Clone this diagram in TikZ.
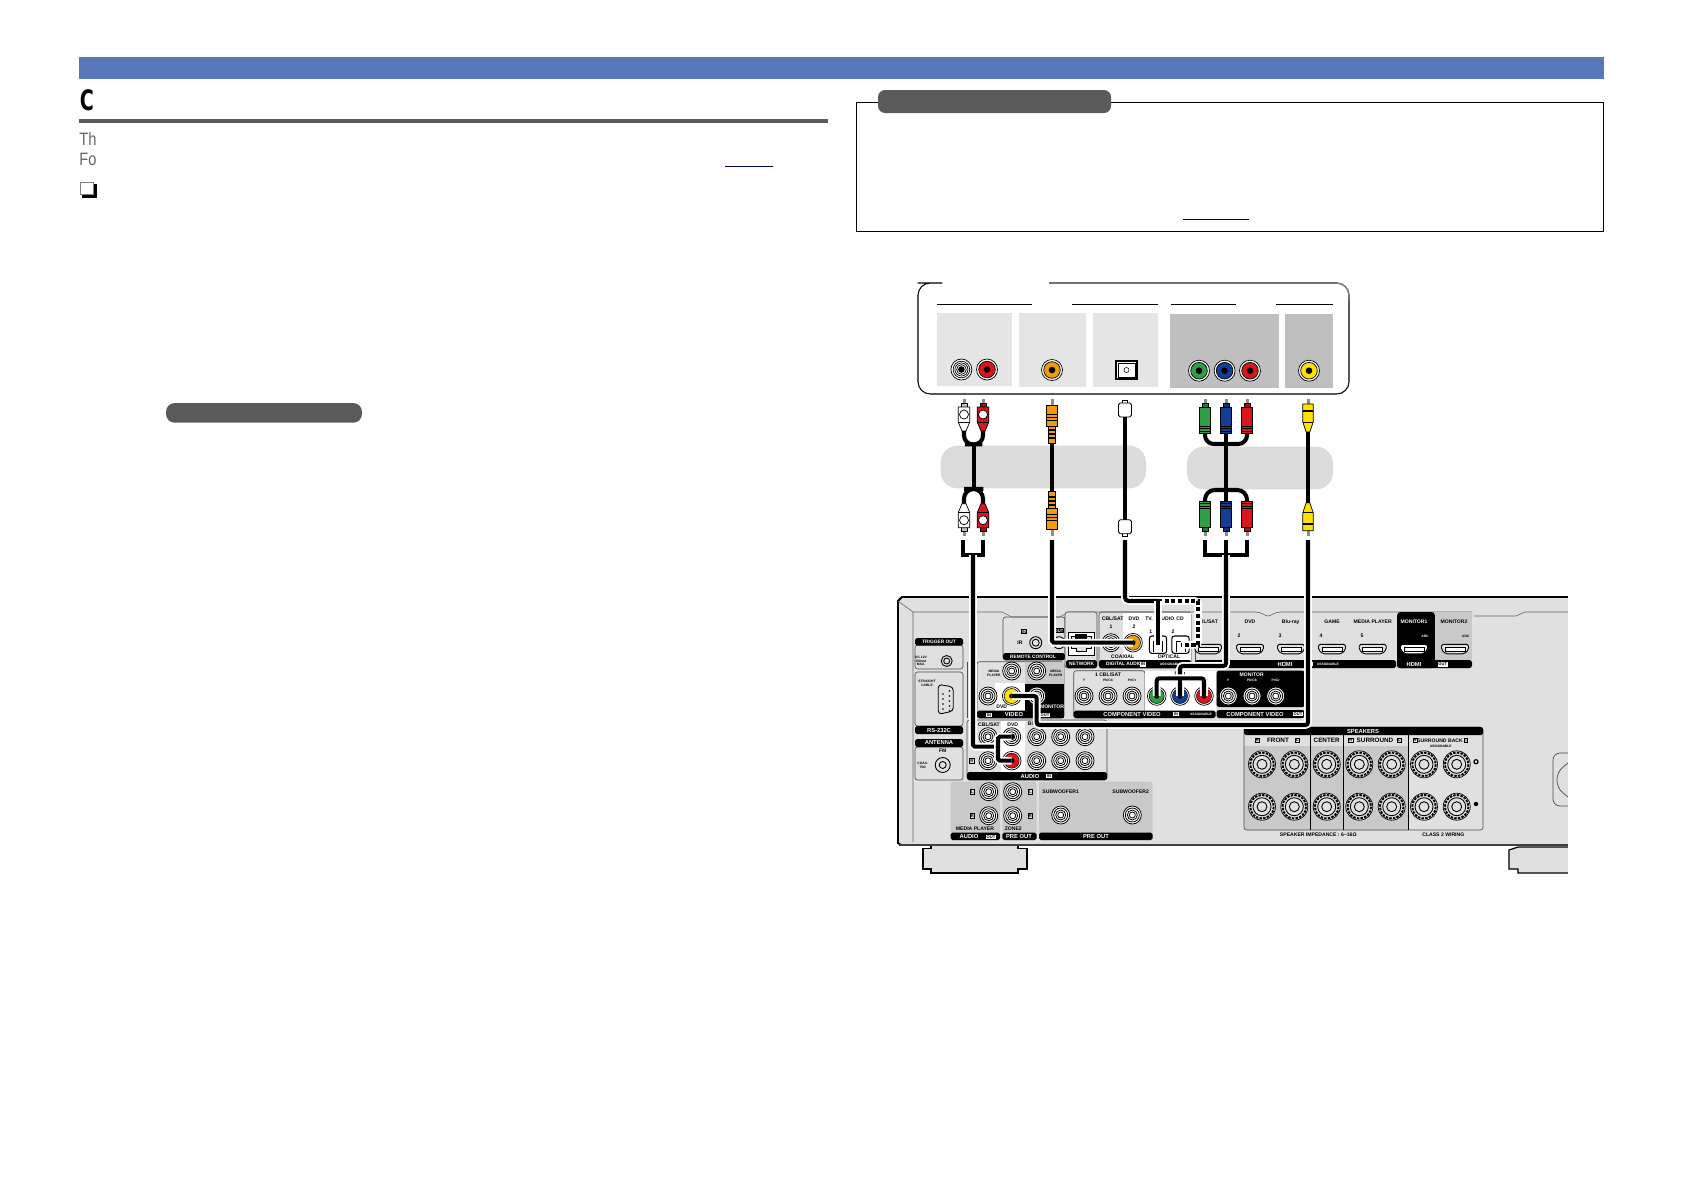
\documentclass[tikz,border=0pt]{standalone}
\usepackage{fontspec}
\usepackage{graphicx}
\setmainfont{Liberation Sans}
\newfontfamily\titlefont{DejaVu Sans}
\usetikzlibrary{calc}
\usetikzlibrary{positioning}

\definecolor{bandblue}{HTML}{5878B9}
\definecolor{pillgray}{HTML}{5A5A5A}
\definecolor{chassis}{HTML}{E0E0E0}
\definecolor{hatchgray}{HTML}{C9C9C9}
\definecolor{plugred}{HTML}{D9161C}
\definecolor{pluggreen}{HTML}{2F9E44}
\definecolor{plugblue}{HTML}{143E96}
\definecolor{plugorange}{HTML}{F09A0E}
\definecolor{plugyellow}{HTML}{FFE100}

\tikzset{
  lab/.style={font=\fontsize{2.9}{3.1}\selectfont\bfseries, inner sep=0pt, align=center},
  labb/.style={font=\fontsize{3.6}{3.8}\selectfont\bfseries, inner sep=0pt},
  labw/.style={lab, text=white},
  labt/.style={font=\fontsize{1.9}{2.1}\selectfont\bfseries, inner sep=0pt, align=center},
  labtw/.style={labt, text=white},
  head/.style={font=\fontsize{3.3}{4}\selectfont\bfseries, text=white, inner sep=0pt},
  heads/.style={font=\fontsize{2.75}{3}\selectfont\bfseries, text=white, inner sep=0pt},
  tagbox/.style={font=\fontsize{2.3}{2.4}\selectfont\bfseries, fill=white, text=black, inner sep=.4pt},
  tagdark/.style={font=\fontsize{2.3}{2.4}\selectfont\bfseries, fill=black, text=white, inner sep=.5pt},
  panel/.style={draw=black!70, line width=.35pt, rounded corners=1.5pt},
  blackbar/.style={fill=black, rounded corners=1pt},
  cable/.style={black, line width=2.3pt},
  cablew/.style={cable, preaction={draw=white, line width=4.4pt}},
  cabledash/.style={black, line width=2.3pt, dash pattern=on 2.3pt off 1.5pt}
}

% plug with its tip at (x,y), direction 1 = cable below, -1 = cable above
\newcommand{\compplug}[5]{
  \begin{scope}[shift={(#2,#3)},yscale=#4,line width=.4pt]
    \fill[black!45] (-1.5,0) rectangle (1.5,7);
    \filldraw[fill=#5!75!black] (-3,4) rectangle (3,9);
    \filldraw[fill=#5] (-5.8,8) rectangle (5.8,34);
    \foreach \y in {27,29.5,32} {\draw (-5.8,\y) -- (5.8,\y);}
    \coordinate (#1) at (0,34);
  \end{scope}}
\newcommand{\audioplug}[5]{
  \begin{scope}[shift={(#2,#3)},yscale=#4,line width=.4pt]
    \fill[black!45] (-1.5,0) rectangle (1.5,7);
    \filldraw[fill=#5!75!black] (-3,4) rectangle (3,9);
    \filldraw[fill=#5] (-5.8,8) -- (5.8,8) -- (5.8,23) -- (2,32) -- (-2,32) -- (-5.8,23) -- cycle;
    \draw (-5.8,23) -- (5.8,23);
    \filldraw[fill=white] (0,15.5) circle (4.5);
    \coordinate (#1) at (0,32);
  \end{scope}}
\newcommand{\orangeplug}[4]{
  \begin{scope}[shift={(#2,#3)},yscale=#4,line width=.4pt]
    \fill[black!45] (-1.5,0) rectangle (1.5,7);
    \filldraw[fill=plugorange] (-5.8,6) rectangle (5.8,27);
    \foreach \y in {15,18,21} {\draw (-5.8,\y) -- (5.8,\y);}
    \filldraw[fill=plugorange] (-3.6,27) rectangle (3.6,44);
    \foreach \y in {30,34,38} {\fill (-3.6,\y) rectangle (3.6,\y+1.8);}
    \coordinate (#1) at (0,44);
  \end{scope}}
\newcommand{\yellowplug}[4]{
  \begin{scope}[shift={(#2,#3)},yscale=#4,line width=.4pt]
    \fill[black!45] (-1.5,0) rectangle (1.5,6);
    \filldraw[fill=plugyellow] (-5.2,5) -- (5.2,5) -- (5.2,23) -- (1.8,33) -- (-1.8,33) -- (-5.2,23) -- cycle;
    \fill (-5.2,11) rectangle (5.2,12.5);
    \draw (-5.2,23) -- (5.2,23);
    \coordinate (#1) at (0,33);
  \end{scope}}
\newcommand{\optplug}[4]{
  \begin{scope}[shift={(#2,#3)},yscale=#4,line width=.5pt]
    \filldraw[fill=white] (-2.8,0) rectangle (2.8,5);
    \filldraw[fill=white,rounded corners=1pt] (-6.5,3) rectangle (6.5,17);
    \coordinate (#1) at (0,17);
  \end{scope}}
% jacks
\newcommand{\panjack}[3]{
  \coordinate (#1) at (#2);
  \filldraw[fill=white,line width=.4pt] (#2) circle (10.5);
  \filldraw[fill=#3,line width=.4pt] (#2) circle (8.3);
  \fill (#2) circle (3.3);}
\newcommand{\ringjack}[2]{
  \coordinate (#1) at (#2);
  \fill[white] (#2) circle (9);
  \foreach \r in {9,7,5,3} {\draw[line width=.45pt] (#2) circle (\r);}}
\newcommand{\colorjack}[3]{
  \coordinate (#1) at (#2);
  \filldraw[fill=white,line width=.4pt] (#2) circle (9.3);
  \filldraw[fill=#3,line width=.3pt] (#2) circle (7.5);
  \fill (#2) circle (2.6);}
\newcommand{\spkjack}[1]{
  \filldraw[fill=chassis,line width=.4pt] (#1) circle (13.5);
  \draw[line width=1.1pt,dash pattern=on 1.4pt off .7pt] (#1) circle (11.8);
  \draw[line width=.5pt] (#1) circle (9);
  \draw[line width=.5pt] (#1) circle (5);}
\newcommand{\hdmiport}[2]{
  \begin{scope}[shift={(#1)}]
    \filldraw[fill=#2,line width=.5pt,rounded corners=1pt] (-13.5,-5) -- (13.5,-5) -- (13.5,.5) -- (9.5,4.5) -- (-9.5,4.5) -- (-13.5,.5) -- cycle;
    \filldraw[fill=white,line width=.4pt] (-10,-1.5) rectangle (10,2);
  \end{scope}}
\newcommand{\optport}[2]{
  \coordinate (#1) at (#2);
  \filldraw[fill=white,line width=.6pt,rounded corners=1.5pt] ($(#2)+(-8.7,-8.7)$) rectangle ($(#2)+(8.7,8.7)$);
  \draw[line width=.5pt] ($(#2)+(-4.5,7)$) -- ($(#2)+(-4.5,-3)$) -- ($(#2)+(4.5,-3)$) -- ($(#2)+(4.5,7)$);}

\begin{document}
\begin{tikzpicture}[x=0.02cm,y=-0.02cm]
\useasboundingbox (0,0) rectangle (1684,1191);

% page header
\fill[bandblue] (78.5,57) rectangle (1603.5,79);
\node[anchor=west,inner sep=0pt,font=\fontsize{16}{17}\titlefont\bfseries] (title) at (79.5,100.5) {\scalebox{.68}[1]{C}};
\fill[pillgray] (78.5,119) rectangle (828,122.7);
\node[anchor=west,inner sep=0pt,text=black!60,font=\fontsize{10.2}{11}\selectfont] (introA) at (79,139.5) {\scalebox{.82}[1]{Th}};
\node[anchor=west,inner sep=0pt,text=black!60,font=\fontsize{10.2}{11}\selectfont] (introB) at (79,159.2) {\scalebox{.82}[1]{Fo}};
\draw[blue!40!black,line width=.6pt] (725,166.7) -- (773,166.7);
\fill[black] (82,184) rectangle (97,198);
\filldraw[fill=white,draw=black!50,line width=.4pt] (80.3,182) rectangle (93.5,194.5);
\fill[pillgray,rounded corners=5pt] (166,403) rectangle (362,422.7);

% note box
\draw[line width=.7pt] (856.5,102.3) rectangle (1603.5,231.5);
\fill[pillgray,rounded corners=4pt] (878,90) rectangle (1111,113);
\draw[blue!40!black,line width=.6pt] (1183,219.3) -- (1249,219.3);

% source device
\draw[black,line width=.6pt,rounded corners=7pt] (941,283) -- (930,283) -- (918,283) -- (918,394) -- (1349,394) -- (1349,283) -- (1049,283);
\draw[black!50,line width=.8pt,rounded corners=7pt] (1049,283) -- (1349,283) -- (1349,300);
\foreach \a/\b in {937/1032,1072/1158,1171/1236,1276/1333} {\draw[line width=.6pt] (\a,304.3) -- (\b,304.3);}
\fill[black!10] (937,313) rectangle (1012,386);
\fill[black!10] (1019,313) rectangle (1086,387);
\fill[black!10] (1093,313) rectangle (1158,387);
\fill[black!25] (1170,314) rectangle (1279,388);
\fill[black!25] (1285,314) rectangle (1333,388);
\panjack{srcWhite}{961.4,369.5}{white}
\foreach \r in {6.5,4.8} {\draw[line width=.4pt] (srcWhite) circle (\r);}
\panjack{srcRed}{987,369.5}{plugred}
\panjack{srcOrange}{1052,370}{plugorange}
\filldraw[fill=white,line width=.7pt] (1116,361) rectangle (1137,379);
\draw[line width=.3pt] (1118,363) rectangle (1135,377);
\draw[line width=.3pt] (1126.5,370) circle (2.5);
\panjack{srcGreen}{1199,370.7}{pluggreen}
\panjack{srcBlue}{1224.6,370.7}{plugblue}
\panjack{srcPr}{1250,370.7}{plugred}
\panjack{srcYellow}{1309,370.7}{plugyellow}

% cable labels
\fill[black!14,rounded corners=9.5pt] (940.7,445.7) rectangle (1146,488.3);
\fill[black!14,rounded corners=9.5pt] (1187,446.7) rectangle (1333,489.3);

% plugs
\audioplug{audWT}{964}{399}{1}{white}
\audioplug{audRT}{983}{399}{1}{plugred}
\audioplug{audWB}{964}{535.7}{-1}{white}
\audioplug{audRB}{983}{535.7}{-1}{plugred}
\orangeplug{coaxT}{1052}{399}{1}
\orangeplug{coaxB}{1052}{535.7}{-1}
\optplug{optT}{1125}{400}{1}
\optplug{optB}{1125}{536.7}{-1}
\compplug{grnT}{1205}{399}{1}{pluggreen}
\compplug{bluT}{1226}{399}{1}{plugblue}
\compplug{redT}{1247}{399}{1}{plugred}
\compplug{grnB}{1205}{535.7}{-1}{pluggreen}
\compplug{bluB}{1226}{535.7}{-1}{plugblue}
\compplug{redB}{1247}{535.7}{-1}{plugred}
\yellowplug{vidT}{1308}{399}{1}
\yellowplug{vidB}{1308}{535.7}{-1}

% cables between the plugs
\coordinate (audUp) at (973.7,444.3);
\coordinate (audDn) at (973.7,489);
\coordinate (cmpUp) at (1226,444);
\coordinate (cmpDn) at (1226,490);
\draw[cable,rounded corners=5pt] (audWT) |- (audUp) -| (audRT);
\draw[cable,rounded corners=5.5pt] (audWB) |- (audDn) -| (audRB);
\draw[cable] (audUp) -- (audDn);
\draw[cable] (coaxT) -- (coaxB);
\draw[cable] (optT) -- (optB);
\draw[cable,rounded corners=5pt] (grnT) |- (cmpUp) -| (redT);
\draw[cable,rounded corners=5.5pt] (grnB) |- (cmpDn) -| (redB);
\draw[cable] (bluT) -- (bluB);
\draw[cable] (vidT) -- (vidB);

% receiver
\fill[chassis] (898,597) -- (1568,597) -- (1568,845) -- (898,845) -- cycle;
\draw[line width=1.1pt] (1568,597) -- (902,597) -- (898,601) -- (898,843) -- (901,845);
\draw[black!75,line width=1.5pt] (899,845) -- (1568,845);
\draw[black!60,line width=.35pt] (898,601) -- (913,612) -- (913,842);
\draw[black!60,line width=.35pt] (913,612) -- (1002,612) -- (1012,617) -- (1060,617) -- (1068,612) -- (1255,612) .. controls (1262,612) and (1265,616) .. (1268,616) .. controls (1271,616) and (1274,612) .. (1281,612) -- (1472,612);
\draw[black!60,line width=.35pt] (1474,616) -- (1516,616) -- (1525,612) -- (1568,612);
% feet
\filldraw[fill=chassis,line width=.7pt] (931,846) -- (931,848.5) -- (923,848.5) -- (923,869) -- (931,869) -- (931,873) -- (1018,873) -- (1018,869) -- (1027,869) -- (1027,848.5) -- (1018,848.5) -- (1018,846);
\filldraw[fill=chassis,line width=.7pt] (1568,847) -- (1518,847) -- (1509,850) -- (1509,869) -- (1518,869) -- (1518,873) -- (1568,873);
\fill[white] (1568.3,590) rectangle (1684,880);
\draw[black!70,line width=.4pt,rounded corners=4pt] (1568,753) -- (1553,753) -- (1553,806) -- (1568,806);
\draw[black!70,line width=.4pt,rounded corners=4pt] (1568,763) -- (1557,772) -- (1557,788) -- (1568,797);

% left column
\draw[panel] (915,645) rectangle (963,669);
\draw[panel] (915,672) rectangle (963,726);
\draw[panel] (915,747) rectangle (963,780);
\fill[blackbar] (915,638) rectangle (963,645.5);
\fill[blackbar] (915,726) rectangle (963,734);
\fill[blackbar] (915,739) rectangle (963,747);
\filldraw[fill=chassis,line width=.5pt,rounded corners=2pt] (938.3,684.3) -- (953.3,687) -- (953.3,711) -- (938.3,714.3) -- cycle;
\foreach \y in {691,696,701,706,711} {\fill (949.5,\y) circle (.9);}
\foreach \y in {694,699,704,709} {\fill (943,\y) circle (.9);}
\draw[line width=.5pt] (946.7,661) circle (5.5);
\draw[line width=.5pt] (946.7,661) circle (3);
\draw[line width=.5pt] (942.7,765) circle (7.5);
\draw[line width=.5pt] (942.7,765) circle (3.5);

% remote, network, digital in
\draw[panel] (1003,617) rectangle (1065,660);
\fill[blackbar] (1003,653) rectangle (1065,660);
\draw[panel,fill=chassis] (1065,612) rectangle (1097,668);
\fill[blackbar] (1066,660) rectangle (1097,668);
\filldraw[fill=white,line width=.5pt] (1068,632) rectangle (1094,655);
\filldraw[fill=chassis,line width=.4pt] (1071,636) -- (1091,636) -- (1091,648) -- (1086,648) -- (1086,651) -- (1076,651) -- (1076,648) -- (1071,648) -- cycle;
\fill (1075,634) rectangle (1087,639);
\draw[panel] (1099,612) rectangle (1191,668);
\fill[white] (1123,612.5) rectangle (1190.5,660);
\fill[blackbar] (1099,660) rectangle (1191,668);
\draw[line width=.5pt] (1035.7,642.7) circle (6);
\draw[line width=.5pt] (1035.7,642.7) circle (3.5);
\ringjack{inCoaxA}{1111,642.7}
\colorjack{inCoaxB}{1133,642.7}{plugorange}
\draw[line width=.5pt] (1059,642.7) circle (6);

% hdmi
\draw[panel] (1195,612) -- (1195,668);
\fill[blackbar] (1195,660) rectangle (1396,668);
\fill[black,rounded corners=2pt] (1397,612) rectangle (1435,668);
\fill[hatchgray] (1435,612) rectangle (1472,660);
\fill[black,rounded corners=1.5pt] (1397,660) rectangle (1472,668);
\hdmiport{1208,649.3}{chassis}
\foreach \x in {1250,1291,1332,1372.7} {\hdmiport{\x,649.3}{chassis}}
\hdmiport{1414,649.3}{white}
\hdmiport{1455,649.3}{chassis}

% video
\draw[panel] (977,661.7) rectangle (1064,718);
\fill[hatchgray] (1025,662) rectangle (1064,684);
\fill[black] (1025,684) rectangle (1064,718);
\fill[white] (995,683) rectangle (1025,711);
\fill[blackbar] (977,710.7) rectangle (1064,718);
\draw[panel] (967,661.7) -- (967,718);
\foreach \n/\x/\y in {vidInA/1011.7/671,vidOutA/1036.7/671,vidInB/988/696,vidOutB/1036.7/696} {\ringjack{\n}{\x,\y}}
\colorjack{vidDvd}{1011.7,696}{plugyellow}

% audio in and outputs
\draw[panel] (967,720) rectangle (1107,780);
\fill[white] (1000.7,720.5) rectangle (1025,772);
\fill[blackbar] (967,772) rectangle (1107,780);
\foreach \x in {988,1036.7,1060.7,1085} {
  \ringjack{audA\x}{\x,736.7}
  \ringjack{audB\x}{\x,760.7}}
\ringjack{audDvdL}{1011.7,736.7}
\colorjack{audDvdR}{1011.7,760.7}{plugred}
\fill[black] (audDvdL) circle (2.6);
\fill[hatchgray,rounded corners=1.5pt] (950.7,781.7) rectangle (1000,840);
\fill[hatchgray,rounded corners=1.5pt] (1002.3,781.7) rectangle (1036.7,840);
\fill[hatchgray,rounded corners=1.5pt] (1039,781.7) rectangle (1152.7,840);
\fill[blackbar] (950.7,832.7) rectangle (1000,840);
\fill[blackbar] (1002.3,832.7) rectangle (1036.7,840);
\fill[blackbar] (1039,832.7) rectangle (1152.7,840);
\foreach \x/\y in {988.7/791.7,988.7/815.7,1012.7/791.7,1012.7/815.7,1060.7/815,1132.3/815} {\ringjack{pre\x\y}{\x,\y}}

% component video
\draw[panel,fill=chassis] (1073.7,670.7) rectangle (1145,718);
\fill[white] (1145,670.7) rectangle (1215.7,711);
\fill[blackbar] (1073.7,710.7) rectangle (1215.7,718);
\fill[black,rounded corners=1.5pt] (1216.5,670.7) rectangle (1305,707);
\fill[black,rounded corners=1.5pt] (1216.5,710) rectangle (1305,718);
\foreach \x in {1084,1108,1132,1228.3,1252,1275.7} {\ringjack{cv\x}{\x,696}}
\colorjack{cvGreen}{1156.7,696}{pluggreen}
\colorjack{cvBlue}{1180,696}{plugblue}
\colorjack{cvRed}{1204,696}{plugred}

% optical
\optport{opt1}{1158,644.7}
\optport{opt2}{1180.5,644.7}

% speakers
\fill[hatchgray,rounded corners=1.5pt] (1244,735) rectangle (1408.3,830);
\fill[chassis] (1244.3,735) rectangle (1408.3,746);
\draw[panel] (1244,727) rectangle (1483,830);
\fill[blackbar] (1244,727) rectangle (1483,735);
\foreach \x in {1310.3,1343.3,1408.3} {\draw[line width=.5pt] (\x,735) -- (\x,830);}
\foreach \x in {1262,1294.3,1326.7,1359.3,1391.7,1424,1456.7} {
  \spkjack{\x,764.3}
  \spkjack{\x,806.7}}
\filldraw[fill=white,line width=.7pt] (1476,761.7) circle (2);
\fill (1476,804) circle (2.2);

% labels on black
\foreach \x/\y/\t [count=\i] in {939/730/RS-232C,939/742.9/ANTENNA,1285/664/HDMI,1414/664.5/HDMI,1132/714.3/COMPONENT VIDEO,
  1255/714.3/COMPONENT VIDEO,1014/714.7/VIDEO,1030/776/AUDIO,969/836.7/AUDIO,1019/836.7/PRE OUT,1096/836.7/PRE OUT,1363/731/SPEAKERS}
  {\node[head] (hd\i) at (\x,\y) {\t};}
\foreach \x/\y/\t [count=\i] in {939/641.7/TRIGGER OUT,1033/656.5/REMOTE CONTROL,1081.7/664/NETWORK,1124/664.3/DIGITAL AUDIO}
  {\node[heads] (hs\i) at (\x,\y) {\t};}
\foreach \x/\y/\t [count=\i] in {1414/621.7/MONITOR1,1251.7/674.7/MONITOR,1052/707/MONITOR}
  {\node[labw] (lw\i) at (\x,\y) {\t};}
\node[labt] (lm1) at (1055.7,673) {MEDIA\\PLAYER};
\foreach \x/\y/\t [count=\i] in {1228/680/Y,1252/680/{Pb/Cb},1275.7/680/{Pr/Cr},1425/636.7/ARC,1328/664.3/ASSIGNABLE,1201/714.3/ASSIGNABLE,1170.7/664.5/ASSIGNABLE}
  {\node[labtw] (ltw\i) at (\x,\y) {\t};}
% labels on panels
\foreach \x/\y/\t [count=\i] in {1020/642.7/IR,1112.7/619/{CBL/SAT},1134/619/DVD,1149/619/TV.,1166/619/AUDIO,1180/619/CD,
  1111/626.7/1,1134/626.7/2,1150.7/631.7/1,1173/631.7/2,1122.7/656.7/COAXIAL,1169/656.7/OPTICAL,
  1207/621.7/{CBL/SAT},1250/621.7/DVD,1290.7/621.7/Blu-ray,1332/621.7/GAME,1372.7/621.7/MEDIA PLAYER,1454/621.7/MONITOR2,
  1239/636/2,1280/636/3,1321/636/4,1362/636/5,1108/674.7/{1 CBL/SAT},1180/674/DVD,
  1001.7/707/DVD,989/724.3/{CBL/SAT},1012.7/724.3/DVD,1036.7/724.3/Blu-ray,942.7/750.7/FM,
  975/828.7/MEDIA PLAYER,1013.3/828.7/ZONE2,1060.7/792/SUBWOOFER1,1130.7/792/SUBWOOFER2,
  1440/740.3/SURROUND BACK,1318.3/834.7/SPEAKER IMPEDANCE : 6\textasciitilde 16Ω,1443.3/834.7/CLASS 2 WIRING}
  {\node[lab] (lb\i) at (\x,\y) {\t};}
\foreach \x/\y/\t [count=\i] in {1278/740.3/FRONT,1326.7/740.3/CENTER,1375/740.3/SURROUND}
  {\node[labb] (lg\i) at (\x,\y) {\t};}
\foreach \x/\y/\t [count=\i] in {921/661/{DC 12V\\150mA\\MAX.},927/683/{STRAIGHT\\CABLE},922.7/765/{COAX.\\75Ω},994/673/{MEDIA\\PLAYER},
  1084/680/Y,1108/680/{Pb/Cb},1132/680/{Pr/Cr},1204/680/{Pr/Cr},1465.7/636.7/ARC,1440.7/746/ASSIGNABLE}
  {\node[labt] (lt\i) at (\x,\y) {\t};}
% small tags
\foreach \x/\y/\t [count=\i] in {1176/714.3/IN,1049/776/IN,1442.7/664.5/OUT,1298/714.3/OUT,991/836.7/OUT,1310/664/IN,1045/715/OUT,989/715/IN,1143/664.5/IN}
  {\node[tagbox] (tg\i) at (\x,\y) {\t};}
\node[tagbox,draw=black,line width=.4pt] (tb1) at (1024,631.7) {IN};
\node[tagdark] (tgOut) at (1059,630.7) {OUT};
\foreach \x/\y/\t [count=\i] in {971.7/760.7/R,972.3/791.7/L,972.3/815.7/R,1030.3/791.7/L,1030.3/815.7/R,1257.3/740.3/R,1297.3/740.3/L,1350.7/740.3/R,1399.3/740.3/L,1415/740.3/R,1465.7/740.3/L}
  {\node[tagbox,fill=chassis,draw=black,line width=.3pt] (tc\i) at (\x,\y) {\t};}

% free cable ends above the receiver
\coordinate (audStartW) at (963,540);
\coordinate (audStartR) at (983,540);
\coordinate (audJoin) at (973,555);
\coordinate (coaxStart) at (1052,540);
\coordinate (optStart) at (1125,540);
\coordinate (grnStart) at (1205,540);
\coordinate (bluStart) at (1226,540);
\coordinate (redStart) at (1247,540);
\coordinate (cmpJoin) at (1226,555);
\coordinate (vidStart) at (1308,540);

\draw[cable] (audStartW) |- (audJoin) -| (audStartR);
\draw[cable] (grnStart) |- (cmpJoin) -| (redStart);
\draw[cable] (bluStart) -- (cmpJoin);

% cables into the receiver
\coordinate (audTurn) at (973,746.7);
\coordinate (audFork) at (998,746.7);
\draw[cablew,rounded corners=1pt] (audJoin) -- (audTurn) -- (audFork);
\draw[cablew,rounded corners=1pt] (audDvdL) -| (audFork) |- (audDvdR);
\draw[cablew,rounded corners=1pt] (coaxStart) |- (inCoaxB);
\coordinate (optCorner) at (1125,601);
\coordinate (optFork) at (1158,601);
\coordinate (dashCorner) at (1198.3,601);
\coordinate (dashTurn) at (1198.3,644.7);
\draw[white,line width=4.4pt,rounded corners=2pt] (optFork) -- (dashCorner) -- (dashTurn) -- (opt2);
\draw[cabledash] (optFork) -- (dashCorner) -- (dashTurn) -- (opt2);
\draw[cablew,rounded corners=2pt] (optStart) -- (optCorner) -- (optFork);
\draw[cablew] (optFork) -- (opt1);
\coordinate (cmpTurnA) at (1226,666);
\coordinate (cmpTurnB) at (1180,666);
\coordinate (cmpBar) at (1180,678.3);
\draw[cablew,rounded corners=1.5pt] (cmpJoin) -- (cmpTurnA) -- (cmpTurnB) -- (cvBlue);
\draw[cablew,rounded corners=1.5pt] (cvGreen) |- (cmpBar) -| (cvRed);
\draw[cable] (cmpBar) -- (cvBlue);
\coordinate (vidTurnA) at (1308,725);
\coordinate (vidTurnB) at (1036.7,725);
\coordinate (vidTurnC) at (1036.7,696);
\draw[cablew,rounded corners=1.5pt] (vidStart) -- (vidTurnA) -- (vidTurnB) -- (vidTurnC) -- (vidDvd);

\end{tikzpicture}
\end{document}
